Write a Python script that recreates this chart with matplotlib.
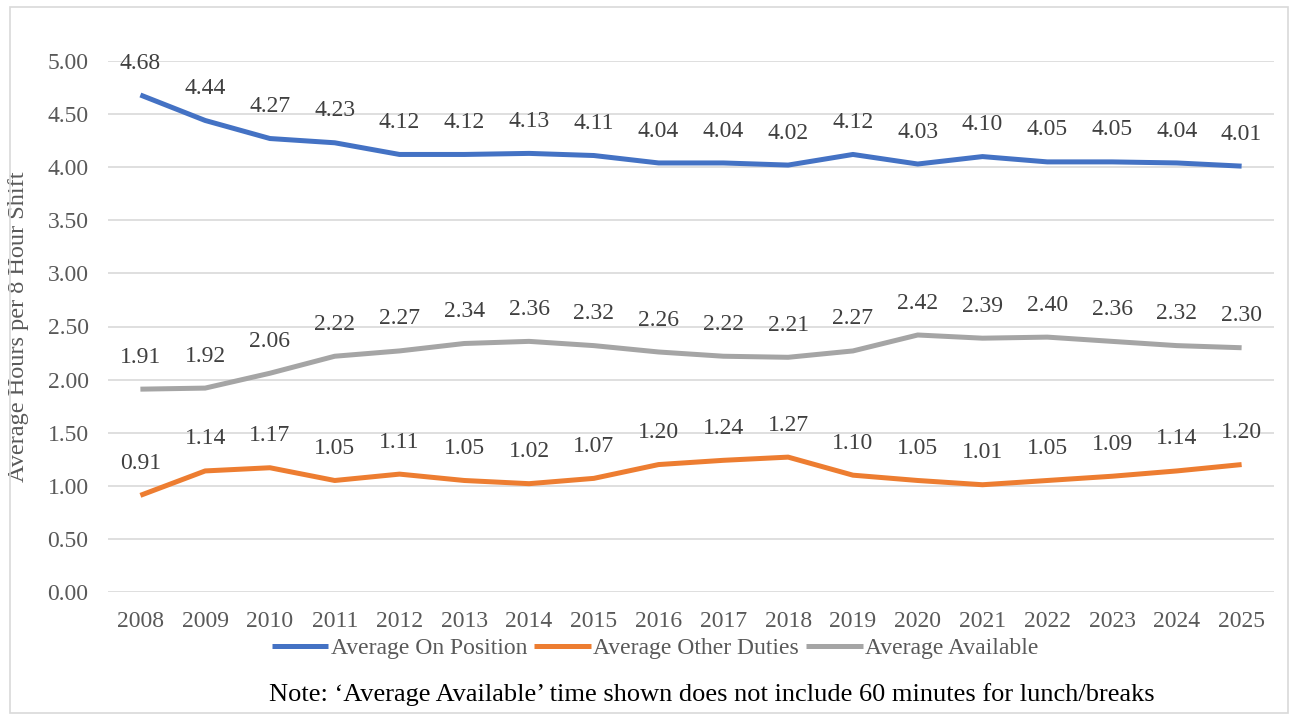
import numpy as np
import matplotlib.pyplot as plt
from matplotlib.patches import Rectangle

plt.rcParams['font.family'] = ['Liberation Serif', 'DejaVu Serif']

years = [str(y) for y in range(2008, 2026)]
on_position = [4.68, 4.44, 4.27, 4.23, 4.12, 4.12, 4.13, 4.11, 4.04, 4.04,
               4.02, 4.12, 4.03, 4.10, 4.05, 4.05, 4.04, 4.01]
other_duties = [0.91, 1.14, 1.17, 1.05, 1.11, 1.05, 1.02, 1.07, 1.20, 1.24,
                1.27, 1.10, 1.05, 1.01, 1.05, 1.09, 1.14, 1.20]
available = [1.91, 1.92, 2.06, 2.22, 2.27, 2.34, 2.36, 2.32, 2.26, 2.22,
             2.21, 2.27, 2.42, 2.39, 2.40, 2.36, 2.32, 2.30]

series = [
    ("Average On Position", on_position, "#4472C4"),
    ("Average Other Duties", other_duties, "#ED7D31"),
    ("Average Available", available, "#A5A5A5"),
]

fs = 17
fig = plt.figure(figsize=(12.9, 7.15), dpi=100)
ax = fig.add_axes([108/1290, 1 - 592/715, (1274 - 108)/1290, (592 - 61)/715])

x = np.arange(len(years))
for name, vals, col in series:
    ax.plot(x, vals, color=col, lw=3.6, label=name, solid_capstyle='butt')
    for xi, v in zip(x, vals):
        ax.annotate(f"{v:.2f}", (xi, v), xytext=(0, 23), textcoords='offset points',
                    ha='center', va='center', fontsize=fs, color='#404040')

ax.set_xlim(-0.5, len(years) - 0.5)
ax.set_ylim(0, 5)
ax.set_yticks(np.arange(0, 5.01, 0.5))
ax.set_yticklabels([f"{v:.2f}" for v in np.arange(0, 5.01, 0.5)])
ax.set_xticks(x)
ax.set_xticklabels(years)
ax.tick_params(length=0, labelsize=fs, labelcolor='#595959')
ax.tick_params(axis='x', pad=14)
ax.tick_params(axis='y', pad=14)
ax.grid(axis='y', color='#D9D9D9', lw=1.2)
ax.set_axisbelow(True)
for s in ax.spines.values():
    s.set_visible(False)

ax.set_ylabel("Average Hours per 8 Hour Shift", fontsize=17.5, color='#595959')
ax.yaxis.set_label_coords(-0.068, 0.5)

fig.legend(loc='center', bbox_to_anchor=(655/1290, 1 - 648/715), ncol=3, frameon=False,
           fontsize=fs, handlelength=2.4, handletextpad=0.1, columnspacing=0.3,
           labelcolor='#595959')

fig.text(712/1290, 1 - 695/715,
         "Note: \u2018Average Available\u2019 time shown does not include 60 minutes for lunch/breaks",
         ha='center', va='center', fontsize=19, color='black')

fig.patches.append(Rectangle((10/1290, 2/715), 1278/1290, 706/715, transform=fig.transFigure,
                             fill=False, edgecolor='#D9D9D9', lw=1.2))

fig.savefig("out.png", dpi=100)
